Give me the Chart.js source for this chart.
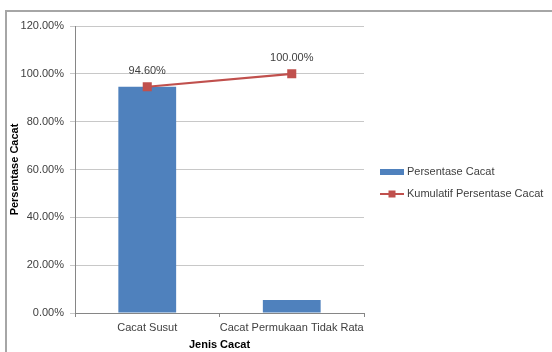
<!DOCTYPE html>
<html>
<head>
<meta charset="utf-8">
<title>Pareto Jenis Cacat</title>
<script src="https://cdn.jsdelivr.net/npm/chart.js@4/dist/chart.umd.min.js"></script>
<style>
  html, body { margin: 0; padding: 0; background: #fff; }
  canvas { display: block; }
</style>
</head>
<body>
<canvas id="paretoChart" width="552" height="352"></canvas>
<script>
// data
const categories = ['Cacat Susut', 'Cacat Permukaan Tidak Rata'];
const persentaseCacat = [94.6, 5.4];
const kumulatifPersentase = [94.6, 100.0];
const yMin = 0, yMax = 120, yStep = 20;

const BLUE = '#4F81BD';
const RED = '#C0504D';
const FONT = "'Liberation Sans', Arial, sans-serif";
const fmtPct = v => Number(v).toFixed(2) + '%';

// grey frame around the chart (left + top edges visible)
const framePlugin = {
  id: 'frame',
  beforeDraw(chart) {
    const ctx = chart.ctx;
    ctx.save();
    ctx.strokeStyle = '#A6A6A6';
    ctx.lineWidth = 2;
    ctx.beginPath();
    ctx.moveTo(6, chart.height + 2);
    ctx.lineTo(6, 11);
    ctx.lineTo(chart.width + 2, 11);
    ctx.stroke();
    ctx.restore();
  }
};

// value labels over the cumulative line
const pointLabels = {
  id: 'pointLabels',
  afterDatasetsDraw(chart) {
    const ctx = chart.ctx;
    const meta = chart.getDatasetMeta(1);
    ctx.save();
    ctx.font = '11px ' + FONT;
    ctx.fillStyle = '#404040';
    ctx.textAlign = 'center';
    ctx.textBaseline = 'middle';
    meta.data.forEach((pt, i) => {
      ctx.fillText(fmtPct(kumulatifPersentase[i]), pt.x, pt.y - 16);
    });
    ctx.restore();
  }
};

// legend on the right, excel style
const sideLegend = {
  id: 'sideLegend',
  afterDraw(chart) {
    const ctx = chart.ctx;
    const x = 380, y1 = 172, y2 = 194;
    ctx.save();
    ctx.fillStyle = BLUE;
    ctx.fillRect(x, y1 - 3, 24, 6);
    ctx.strokeStyle = RED;
    ctx.lineWidth = 2;
    ctx.beginPath();
    ctx.moveTo(x, y2);
    ctx.lineTo(x + 24, y2);
    ctx.stroke();
    ctx.fillStyle = RED;
    ctx.fillRect(x + 8.5, y2 - 3.5, 7, 7);
    ctx.font = '11px ' + FONT;
    ctx.fillStyle = '#404040';
    ctx.textBaseline = 'middle';
    ctx.fillText(chart.data.datasets[0].label, x + 27, y1);
    ctx.fillText(chart.data.datasets[1].label, x + 27, y2);
    ctx.restore();
  }
};

new Chart(document.getElementById('paretoChart'), {
  data: {
    labels: categories,
    datasets: [
      {
        type: 'bar',
        label: 'Persentase Cacat',
        data: persentaseCacat,
        backgroundColor: BLUE,
        borderWidth: 0,
        barPercentage: 0.4,
        categoryPercentage: 1,
        order: 2
      },
      {
        type: 'line',
        label: 'Kumulatif Persentase Cacat',
        data: kumulatifPersentase,
        borderColor: RED,
        borderWidth: 2.25,
        backgroundColor: RED,
        pointStyle: 'rect',
        pointRadius: 6.4,
        pointBorderWidth: 0,
        tension: 0,
        order: 1
      }
    ]
  },
  options: {
    responsive: false,
    animation: false,
    layout: { padding: { left: 5, top: 26, right: 188, bottom: 0 } },
    plugins: {
      legend: { display: false },
      tooltip: { enabled: false }
    },
    scales: {
      x: {
        grid: { drawOnChartArea: false, drawTicks: true, tickLength: 4, color: '#868686', offset: true },
        border: { color: '#868686', width: 1 },
        ticks: { color: '#404040', font: { family: FONT, size: 11 }, padding: 4,
                 maxRotation: 0, autoSkip: false },
        title: { display: true, text: 'Jenis Cacat', color: '#000', padding: { top: 0, bottom: 0 },
                 font: { family: FONT, size: 11, weight: 'bold' } },
        afterFit(scale) { scale.height = 39; }
      },
      y: {
        min: yMin,
        max: yMax,
        ticks: { stepSize: yStep, color: '#404040', font: { family: FONT, size: 11 }, padding: 6,
                 callback: v => fmtPct(v) },
        grid: { color: '#C8C8C8', tickLength: 5 },
        border: { color: '#868686', width: 1 },
        title: { display: true, text: 'Persentase Cacat', color: '#000', padding: { top: 3, bottom: 0 },
                 font: { family: FONT, size: 11, weight: 'bold' } },
        afterFit(scale) { scale.width = 70; }
      }
    }
  },
  plugins: [framePlugin, pointLabels, sideLegend]
});
</script>
</body>
</html>
